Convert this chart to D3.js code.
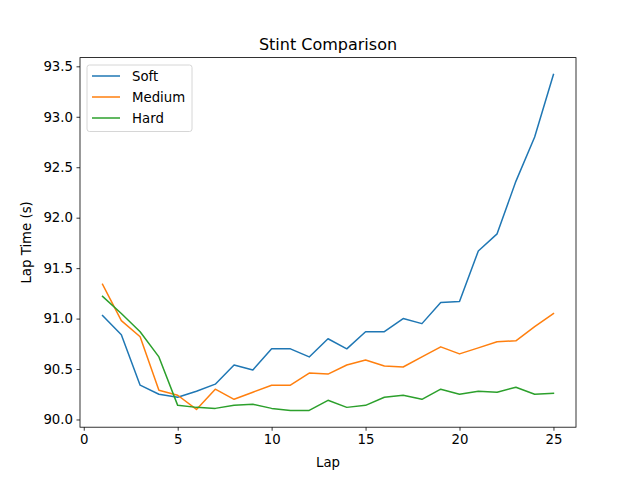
<!DOCTYPE html>
<html>
<head>
<meta charset="utf-8">
<style>
  body { margin: 0; background: #fff; }
  svg text { font-family: "DejaVu Sans", sans-serif; fill: #000; }
</style>
</head>
<body>
<div id="chart"></div>
<script src="https://d3js.org/d3.v7.min.js"></script>
<script>
'use strict';

var laps = d3.range(1, 26);
var soft = [91.03, 90.84, 90.34, 90.25, 90.22, 90.28, 90.35, 90.54, 90.49, 90.70,
            90.70, 90.62, 90.80, 90.70, 90.87, 90.87, 91.00, 90.95, 91.16, 91.17,
            91.67, 91.84, 92.36, 92.80, 93.42];
var medium = [91.34, 90.98, 90.82, 90.29, 90.24, 90.10, 90.30, 90.20, 90.27, 90.34,
              90.34, 90.46, 90.45, 90.54, 90.59, 90.53, 90.52, 90.62, 90.72, 90.65,
              90.71, 90.77, 90.78, 90.92, 91.05];
var hard = [91.22, 91.05, 90.87, 90.62, 90.14, 90.12, 90.11, 90.14, 90.15, 90.11,
            90.09, 90.09, 90.19, 90.12, 90.14, 90.22, 90.24, 90.20, 90.30, 90.25,
            90.28, 90.27, 90.32, 90.25, 90.26];
var seriesNames = ['Soft', 'Medium', 'Hard'];
var seriesColors = ['#1f77b4', '#ff7f0e', '#2ca02c'];
var xTicks = [0, 5, 10, 15, 20, 25];
var yTicks = [90.0, 90.5, 91.0, 91.5, 92.0, 92.5, 93.0, 93.5];

var W = 640, H = 480;
var m = {left: 80, right: 64, top: 57.6, bottom: 52.8};
var iw = W - m.left - m.right, ih = H - m.top - m.bottom;

var series = [soft, medium, hard];

// matplotlib-like 5% margins
var xMin = d3.min(laps), xMax = d3.max(laps);
var xPad = (xMax - xMin) * 0.05;
var all = [].concat(soft, medium, hard);
var yMin = d3.min(all), yMax = d3.max(all);
var yPad = (yMax - yMin) * 0.05;

var x = d3.scaleLinear().domain([xMin - xPad, xMax + xPad]).range([0, iw]);
var y = d3.scaleLinear().domain([yMin - yPad, yMax + yPad]).range([ih, 0]);

var svg = d3.select('#chart').append('svg')
  .attr('width', W).attr('height', H);

var g = svg.append('g').attr('transform', 'translate(' + m.left + ',' + m.top + ')');

var line = d3.line()
  .x(function(d, i) { return x(laps[i]); })
  .y(function(d) { return y(d); });

g.selectAll('path.series')
  .data(series)
  .enter().append('path')
    .attr('class', 'series')
    .attr('d', line)
    .attr('fill', 'none')
    .attr('stroke', function(d, i) { return seriesColors[i]; })
    .attr('stroke-width', 1.5)
    .attr('stroke-linejoin', 'round')
    .attr('stroke-linecap', 'square');

var xAxis = g.append('g')
  .attr('transform', 'translate(0,' + ih + ')')
  .call(d3.axisBottom(x).tickValues(xTicks).tickSize(3.5).tickPadding(3.5));
var yAxis = g.append('g')
  .call(d3.axisLeft(y).tickValues(yTicks).tickFormat(d3.format('.1f')).tickSize(3.5).tickPadding(3.5));

[xAxis, yAxis].forEach(function(a) {
  a.select('.domain').remove();
  a.selectAll('.tick line').attr('stroke', '#000').attr('stroke-width', 0.8);
  a.selectAll('.tick text').attr('font-size', 13.3).style('font-family', '"DejaVu Sans", sans-serif');
});

// frame
g.append('rect')
  .attr('width', iw).attr('height', ih)
  .attr('fill', 'none').attr('stroke', '#000').attr('stroke-width', 0.8);

svg.append('text')
  .attr('x', m.left + iw / 2).attr('y', m.top - 8)
  .attr('text-anchor', 'middle').attr('font-size', 16)
  .text('Stint Comparison');

svg.append('text')
  .attr('x', m.left + iw / 2).attr('y', 467)
  .attr('text-anchor', 'middle').attr('font-size', 13.3)
  .text('Lap');

svg.append('text')
  .attr('transform', 'translate(31,' + (m.top + ih / 2) + ') rotate(-90)')
  .attr('text-anchor', 'middle').attr('font-size', 13.3)
  .text('Lap Time (s)');

// legend
var lg = svg.append('g').attr('transform', 'translate(87,65)');
lg.append('rect')
  .attr('width', 105).attr('height', 66.5).attr('rx', 2.5)
  .attr('fill', '#fff').attr('fill-opacity', 0.8)
  .attr('stroke', '#ccc').attr('stroke-width', 0.8);
var items = lg.selectAll('g.item')
  .data(seriesNames)
  .enter().append('g')
    .attr('class', 'item')
    .attr('transform', function(d, i) { return 'translate(0,' + (11 + i * 21) + ')'; });
items.append('line')
  .attr('x1', 5).attr('x2', 33)
  .attr('stroke', function(d, i) { return seriesColors[i]; })
  .attr('stroke-width', 1.5);
items.append('text')
  .attr('x', 45).attr('dy', '0.35em')
  .attr('font-size', 13.3)
  .text(function(d) { return d; });
</script>
</body>
</html>
